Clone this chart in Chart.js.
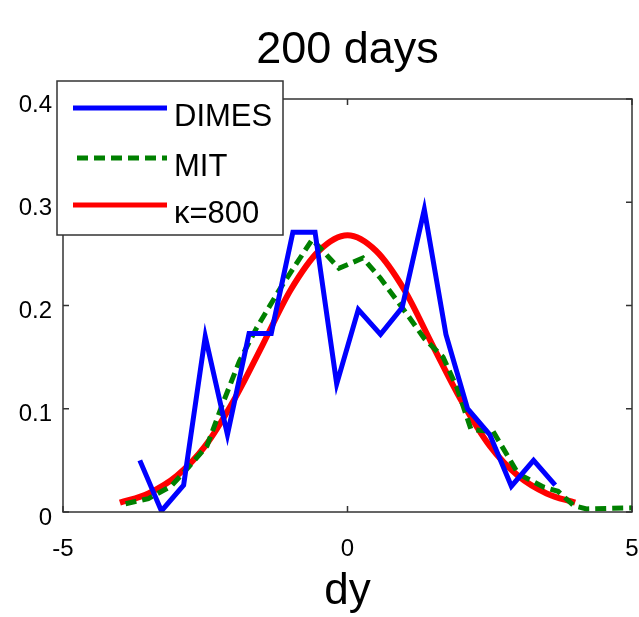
<!DOCTYPE html>
<html>
<head>
<meta charset="utf-8">
<script src="https://cdn.jsdelivr.net/npm/chart.js@4.4.1/dist/chart.umd.min.js"></script>
<style>
  html, body { margin: 0; padding: 0; background: #fff; }
  #wrap { width: 639px; height: 617px; }
</style>
</head>
<body>
<div id="wrap"><canvas id="chart" width="639" height="617"></canvas></div>
<script>
// ====================== DATA ======================
const dimesX = [-3.65, -3.27, -2.88, -2.50, -2.11, -1.73, -1.34, -0.96, -0.57, -0.19,
                 0.19, 0.58, 0.96, 1.35, 1.73, 2.11, 2.50, 2.88, 3.27, 3.65];
const dimesY = [0.050, 0.001, 0.026, 0.170, 0.075, 0.173, 0.173, 0.271, 0.271, 0.124,
                0.196, 0.172, 0.198, 0.293, 0.172, 0.100, 0.075, 0.025, 0.050, 0.026];

const mitX = [-3.90, -3.50, -3.10, -2.80, -2.47, -2.20, -1.90, -1.60, -1.20, -0.62,
              -0.15, 0.27, 0.57, 1.00, 1.35, 1.68, 1.92, 2.17, 2.56, 3.00,
              3.45, 3.70, 3.98, 4.20, 5.00];
const mitY = [0.008, 0.013, 0.025, 0.043, 0.064, 0.104, 0.146, 0.178, 0.215, 0.264,
              0.236, 0.246, 0.227, 0.195, 0.168, 0.150, 0.121, 0.080, 0.078, 0.037,
              0.024, 0.020, 0.006, 0.003, 0.004];

const kappaX = [-4, -3.5, -3, -2.5, -2, -1.5, -1, -0.5, 0, 0.5, 1, 1.5, 2, 2.5, 3, 3.5, 4];
const kappaY = [0.009, 0.018, 0.035, 0.064, 0.108, 0.161, 0.215, 0.253, 0.268,
                0.253, 0.215, 0.161, 0.108, 0.064, 0.035, 0.018, 0.009];

const seriesLabels = ['DIMES', 'MIT', '\u03ba=800'];
const xTicks = [-5, 0, 5];
const yTicks = [0, 0.1, 0.2, 0.3, 0.4];

const toPoints = (xs, ys) => xs.map((x, i) => ({ x: x, y: ys[i] }));

// ====================== PLUGINS ======================
// box around the axes + inward ticks on all four sides (matlab look)
const axesBox = {
  id: 'axesBox',
  afterDraw(chart) {
    const { ctx, chartArea: a, scales } = chart;
    const len = 6;
    ctx.save();
    ctx.strokeStyle = '#333';
    ctx.lineWidth = 1.5;
    ctx.strokeRect(a.left, a.top, a.right - a.left, a.bottom - a.top);
    ctx.beginPath();
    scales.x.ticks.forEach(t => {
      const px = scales.x.getPixelForValue(t.value);
      ctx.moveTo(px, a.bottom); ctx.lineTo(px, a.bottom - len);
      ctx.moveTo(px, a.top); ctx.lineTo(px, a.top + len);
    });
    scales.y.ticks.forEach(t => {
      const py = scales.y.getPixelForValue(t.value);
      ctx.moveTo(a.left, py); ctx.lineTo(a.left + len, py);
      ctx.moveTo(a.right, py); ctx.lineTo(a.right - len, py);
    });
    ctx.stroke();
    ctx.restore();
  }
};

// legend box sitting over the top-left corner of the axes
const boxLegend = {
  id: 'boxLegend',
  afterDraw(chart) {
    const ctx = chart.ctx;
    const bx = 57, by = 81, bw = 226, bh = 154;
    const rows = [108, 158, 205];
    ctx.save();
    ctx.fillStyle = '#fff';
    ctx.fillRect(bx, by, bw, bh);
    ctx.strokeStyle = '#333';
    ctx.lineWidth = 1.5;
    ctx.strokeRect(bx, by, bw, bh);
    chart.data.datasets.forEach((ds, i) => {
      const y = rows[i];
      ctx.beginPath();
      ctx.setLineDash(ds.borderDash || []);
      ctx.strokeStyle = ds.borderColor;
      ctx.lineWidth = 5;
      ctx.moveTo(i === 1 ? 77 : 73, y);
      ctx.lineTo(167, y);
      ctx.stroke();
      ctx.setLineDash([]);
      ctx.fillStyle = '#000';
      ctx.font = '31px "Liberation Sans", Arial, sans-serif';
      ctx.textBaseline = 'alphabetic';
      ctx.textAlign = 'left';
      ctx.fillText(ds.label, 174, y + 18);
    });
    ctx.restore();
  }
};

// ====================== CHART ======================
Chart.defaults.font.family = '"Liberation Sans", Arial, sans-serif';
Chart.defaults.color = '#000';

new Chart(document.getElementById('chart'), {
  type: 'line',
  data: {
    datasets: [
      {
        label: seriesLabels[0],
        data: toPoints(dimesX, dimesY),
        borderColor: '#0000ff',
        borderWidth: 5,
        pointRadius: 0,
        tension: 0
      },
      {
        label: seriesLabels[1],
        data: toPoints(mitX, mitY),
        borderColor: '#008000',
        borderWidth: 5,
        borderDash: [11, 6],
        pointRadius: 0,
        tension: 0
      },
      {
        label: seriesLabels[2],
        data: toPoints(kappaX, kappaY),
        borderColor: '#ff0000',
        borderWidth: 6,
        pointRadius: 0,
        cubicInterpolationMode: 'monotone'
      }
    ]
  },
  options: {
    responsive: false,
    animation: false,
    layout: { padding: { left: 0, right: 7, top: 0, bottom: 0 } },
    plugins: {
      legend: { display: false },
      tooltip: { enabled: false },
      title: {
        display: true,
        text: '200 days',
        fullSize: false,
        color: '#000',
        font: { size: 45, weight: 'normal', lineHeight: 1.2 },
        padding: { top: 24, bottom: 21 }
      }
    },
    scales: {
      x: {
        type: 'linear',
        min: -5, max: 5,
        afterBuildTicks: s => { s.ticks = xTicks.map(v => ({ value: v })); },
        afterFit: s => { s.height = 105; s.paddingLeft = 7; s.paddingRight = 7; },
        grid: { display: false, drawTicks: false },
        border: { display: false },
        ticks: { padding: 23, font: { size: 24 }, color: '#000', maxRotation: 0 },
        title: {
          display: true,
          text: 'dy',
          color: '#000',
          font: { size: 44, lineHeight: 1 },
          padding: { top: 0, bottom: 3 }
        }
      },
      y: {
        min: 0, max: 0.4,
        afterBuildTicks: s => { s.ticks = yTicks.map(v => ({ value: v })); },
        afterFit: s => { s.width = 63; },
        grid: { display: false, drawTicks: false },
        border: { display: false },
        ticks: { padding: 11, labelOffset: 6, font: { size: 24 }, color: '#000' }
      }
    }
  },
  plugins: [axesBox, boxLegend]
});
</script>
</body>
</html>
